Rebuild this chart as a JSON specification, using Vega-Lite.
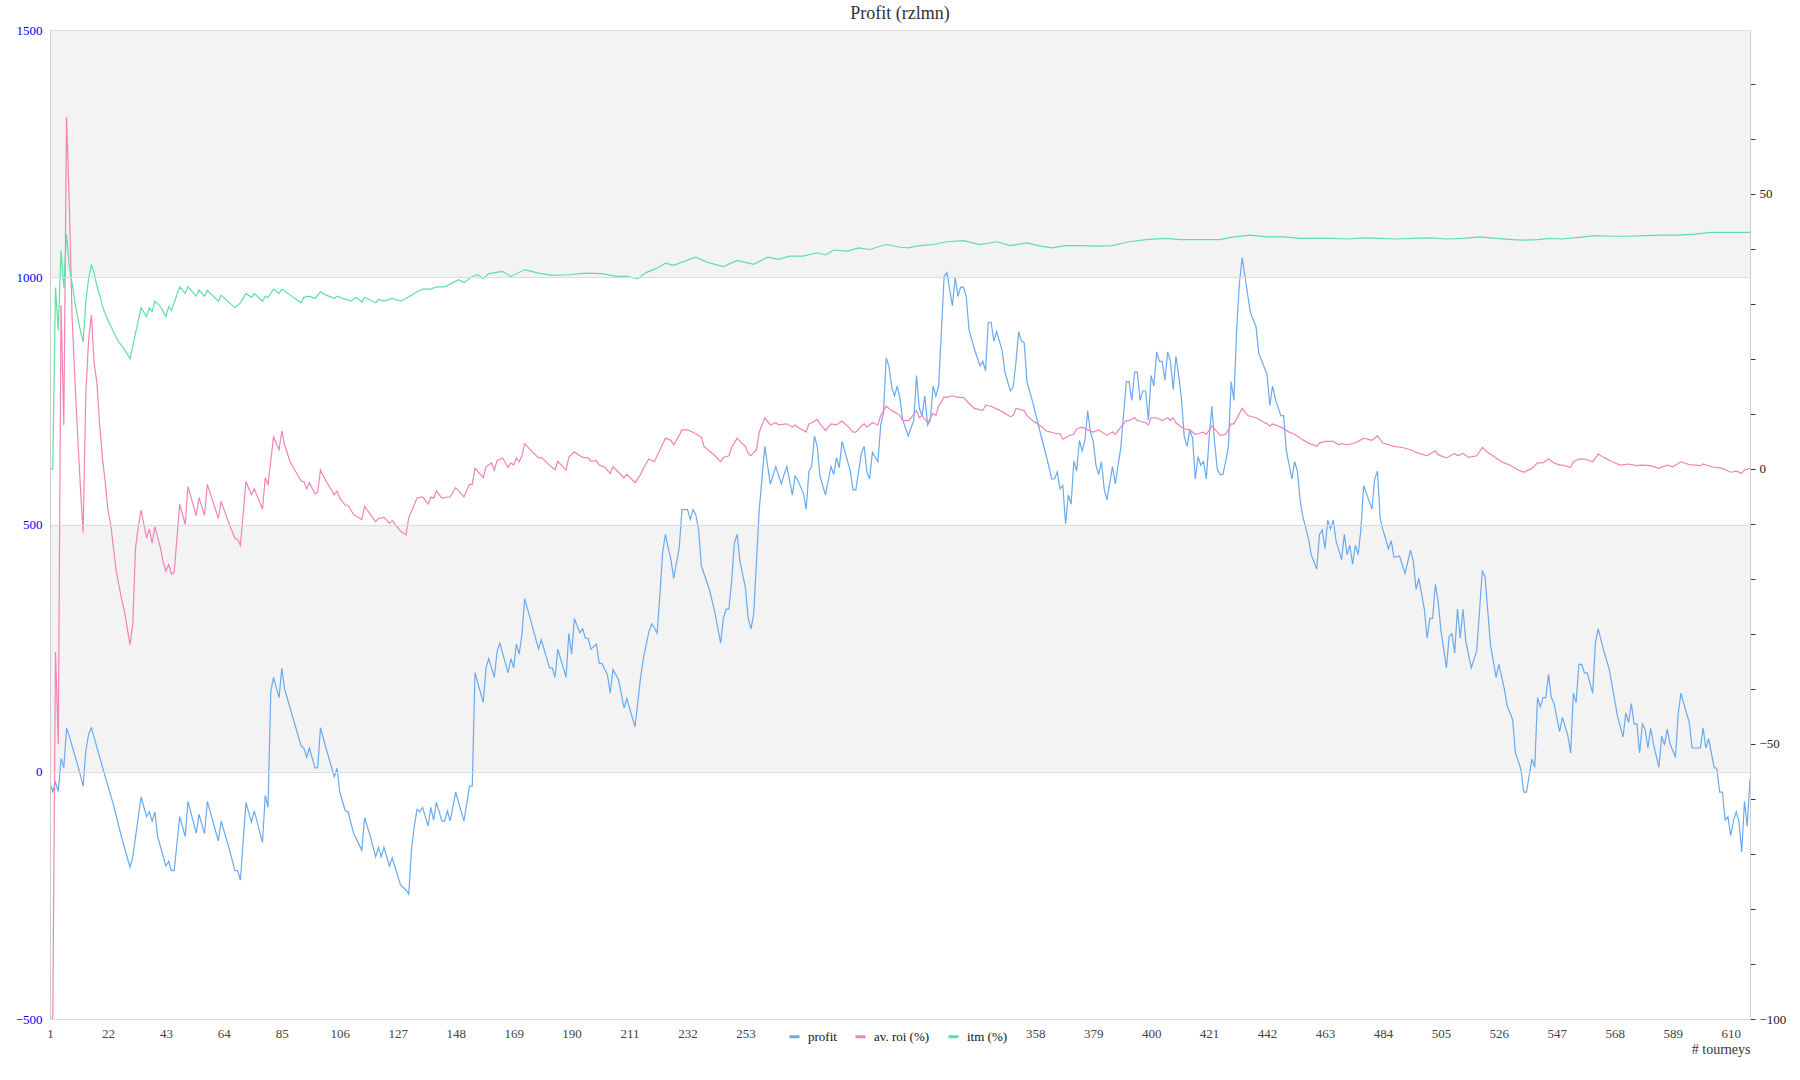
{
  "$schema": "https://vega.github.io/schema/vega-lite/v6.json",
  "autosize": {"type": "none"},
  "width": 1700,
  "height": 989,
  "padding": {"left": 50, "top": 30, "right": 50, "bottom": 61},
  "background": "white",
  "config": {
    "view": {"stroke": "#cccccc"},
    "font": "Liberation Serif"
  },
  "title": {
    "text": "Profit (rzlmn)",
    "font": "Liberation Serif",
    "fontSize": 18,
    "fontWeight": "normal",
    "color": "#333333",
    "offset": 1
  },
  "datasets": {
    "bands": [{"lo": 1000, "hi": 1500}, {"lo": 0, "hi": 500}],
    "profit": [
      {"t":1,"v":-24},{"t":2,"v":-40},{"t":3,"v":-22},{"t":4,"v":-40},{"t":5,"v":27},{"t":6,"v":8},{"t":7,"v":88},{"t":8,"v":72},{"t":9,"v":52},{"t":10,"v":33},
      {"t":11,"v":14},{"t":12,"v":-7},{"t":13,"v":-29},{"t":14,"v":43},{"t":15,"v":76},{"t":16,"v":89},{"t":21,"v":-10},{"t":24,"v":-67},{"t":27,"v":-134},{"t":30,"v":-193},
      {"t":31,"v":-172},{"t":33,"v":-91},{"t":34,"v":-51},{"t":36,"v":-91},{"t":37,"v":-81},{"t":38,"v":-100},{"t":39,"v":-81},{"t":40,"v":-131},{"t":43,"v":-191},{"t":44,"v":-181},
      {"t":45,"v":-200},{"t":46,"v":-200},{"t":48,"v":-91},{"t":50,"v":-131},{"t":51,"v":-60},{"t":54,"v":-124},{"t":55,"v":-86},{"t":57,"v":-125},{"t":58,"v":-60},{"t":62,"v":-140},
      {"t":63,"v":-100},{"t":66,"v":-157},{"t":68,"v":-200},{"t":69,"v":-200},{"t":70,"v":-219},{"t":72,"v":-62},{"t":74,"v":-102},{"t":75,"v":-79},{"t":78,"v":-143},{"t":79,"v":-48},
      {"t":80,"v":-72},{"t":81,"v":162},{"t":82,"v":191},{"t":84,"v":150},{"t":85,"v":209},{"t":86,"v":167},{"t":88,"v":129},{"t":92,"v":52},{"t":93,"v":48},{"t":94,"v":29},
      {"t":95,"v":48},{"t":97,"v":8},{"t":98,"v":8},{"t":99,"v":89},{"t":101,"v":48},{"t":104,"v":-10},{"t":105,"v":7},{"t":106,"v":-41},{"t":108,"v":-79},{"t":109,"v":-81},
      {"t":111,"v":-124},{"t":114,"v":-159},{"t":115,"v":-93},{"t":117,"v":-129},{"t":119,"v":-172},{"t":120,"v":-153},{"t":121,"v":-172},{"t":122,"v":-153},{"t":124,"v":-191},{"t":125,"v":-174},
      {"t":128,"v":-229},{"t":130,"v":-239},{"t":131,"v":-248},{"t":132,"v":-157},{"t":133,"v":-110},{"t":134,"v":-76},{"t":135,"v":-81},{"t":136,"v":-72},{"t":138,"v":-110},{"t":139,"v":-72},
      {"t":140,"v":-98},{"t":141,"v":-62},{"t":143,"v":-100},{"t":144,"v":-100},{"t":145,"v":-79},{"t":146,"v":-100},{"t":148,"v":-41},{"t":151,"v":-100},{"t":153,"v":-29},{"t":154,"v":-29},
      {"t":155,"v":200},{"t":158,"v":140},{"t":159,"v":210},{"t":160,"v":229},{"t":162,"v":191},{"t":163,"v":243},{"t":164,"v":260},{"t":167,"v":200},{"t":168,"v":229},{"t":169,"v":210},
      {"t":170,"v":258},{"t":171,"v":238},{"t":172,"v":277},{"t":173,"v":350},{"t":175,"v":310},{"t":178,"v":248},{"t":179,"v":267},{"t":182,"v":210},{"t":183,"v":210},{"t":184,"v":191},
      {"t":185,"v":248},{"t":188,"v":191},{"t":189,"v":280},{"t":190,"v":238},{"t":191,"v":310},{"t":193,"v":281},{"t":194,"v":289},{"t":195,"v":270},{"t":196,"v":270},{"t":197,"v":248},
      {"t":199,"v":258},{"t":200,"v":219},{"t":201,"v":219},{"t":203,"v":196},{"t":204,"v":159},{"t":205,"v":207},{"t":207,"v":186},{"t":209,"v":129},{"t":210,"v":148},{"t":213,"v":91},
      {"t":215,"v":191},{"t":216,"v":229},{"t":218,"v":283},{"t":219,"v":299},{"t":220,"v":291},{"t":221,"v":280},{"t":222,"v":358},{"t":223,"v":444},{"t":224,"v":480},{"t":225,"v":453},
      {"t":226,"v":429},{"t":227,"v":391},{"t":229,"v":453},{"t":230,"v":530},{"t":232,"v":530},{"t":233,"v":510},{"t":234,"v":530},{"t":235,"v":520},{"t":236,"v":491},{"t":237,"v":417},
      {"t":240,"v":367},{"t":242,"v":320},{"t":244,"v":260},{"t":245,"v":310},{"t":246,"v":329},{"t":247,"v":329},{"t":248,"v":386},{"t":249,"v":463},{"t":250,"v":480},{"t":251,"v":426},
      {"t":253,"v":372},{"t":254,"v":310},{"t":255,"v":289},{"t":256,"v":320},{"t":257,"v":426},{"t":258,"v":530},{"t":260,"v":658},{"t":262,"v":582},{"t":264,"v":617},{"t":266,"v":582},
      {"t":267,"v":601},{"t":268,"v":617},{"t":270,"v":560},{"t":271,"v":598},{"t":272,"v":589},{"t":274,"v":563},{"t":275,"v":531},{"t":276,"v":608},{"t":277,"v":617},{"t":278,"v":679},
      {"t":279,"v":658},{"t":280,"v":598},{"t":282,"v":560},{"t":283,"v":589},{"t":284,"v":617},{"t":285,"v":601},{"t":286,"v":635},{"t":287,"v":615},{"t":288,"v":668},{"t":291,"v":608},
      {"t":292,"v":570},{"t":293,"v":570},{"t":295,"v":644},{"t":296,"v":658},{"t":297,"v":606},{"t":298,"v":592},{"t":299,"v":646},{"t":301,"v":627},{"t":302,"v":701},{"t":303,"v":725},
      {"t":304,"v":837},{"t":305,"v":820},{"t":306,"v":778},{"t":307,"v":760},{"t":308,"v":780},{"t":309,"v":754},{"t":310,"v":711},{"t":312,"v":679},{"t":314,"v":711},{"t":315,"v":801},
      {"t":316,"v":735},{"t":317,"v":720},{"t":318,"v":760},{"t":319,"v":701},{"t":320,"v":711},{"t":321,"v":780},{"t":322,"v":760},{"t":323,"v":780},{"t":324,"v":892},{"t":325,"v":1002},
      {"t":326,"v":1009},{"t":328,"v":942},{"t":329,"v":1000},{"t":330,"v":961},{"t":331,"v":980},{"t":332,"v":980},{"t":333,"v":961},{"t":334,"v":894},{"t":336,"v":854},{"t":338,"v":821},
      {"t":339,"v":830},{"t":340,"v":811},{"t":341,"v":909},{"t":342,"v":909},{"t":343,"v":871},{"t":344,"v":890},{"t":346,"v":852},{"t":347,"v":808},{"t":349,"v":770},{"t":350,"v":778},
      {"t":351,"v":827},{"t":352,"v":890},{"t":353,"v":871},{"t":354,"v":868},{"t":355,"v":789},{"t":357,"v":749},{"t":360,"v":682},{"t":362,"v":639},{"t":364,"v":592},{"t":365,"v":592},
      {"t":366,"v":606},{"t":367,"v":572},{"t":368,"v":579},{"t":369,"v":501},{"t":370,"v":560},{"t":371,"v":541},{"t":372,"v":628},{"t":373,"v":608},{"t":374,"v":670},{"t":375,"v":649},
      {"t":376,"v":670},{"t":377,"v":730},{"t":378,"v":687},{"t":379,"v":668},{"t":380,"v":620},{"t":381,"v":601},{"t":382,"v":627},{"t":383,"v":572},{"t":384,"v":550},{"t":386,"v":617},
      {"t":387,"v":582},{"t":389,"v":655},{"t":391,"v":789},{"t":392,"v":789},{"t":393,"v":751},{"t":394,"v":808},{"t":395,"v":808},{"t":396,"v":751},{"t":397,"v":770},{"t":398,"v":770},
      {"t":399,"v":711},{"t":400,"v":801},{"t":401,"v":780},{"t":402,"v":849},{"t":403,"v":830},{"t":404,"v":830},{"t":405,"v":792},{"t":406,"v":849},{"t":407,"v":830},{"t":408,"v":773},
      {"t":409,"v":840},{"t":410,"v":801},{"t":411,"v":754},{"t":412,"v":677},{"t":413,"v":658},{"t":414,"v":690},{"t":415,"v":675},{"t":416,"v":592},{"t":417,"v":637},{"t":418,"v":620},
      {"t":419,"v":627},{"t":420,"v":592},{"t":421,"v":673},{"t":422,"v":739},{"t":423,"v":665},{"t":424,"v":611},{"t":425,"v":601},{"t":426,"v":601},{"t":427,"v":627},{"t":428,"v":658},
      {"t":429,"v":789},{"t":430,"v":751},{"t":431,"v":897},{"t":432,"v":989},{"t":433,"v":1040},{"t":434,"v":1002},{"t":435,"v":964},{"t":436,"v":928},{"t":438,"v":900},{"t":439,"v":846},
      {"t":442,"v":804},{"t":443,"v":741},{"t":444,"v":780},{"t":445,"v":754},{"t":447,"v":720},{"t":448,"v":720},{"t":449,"v":649},{"t":451,"v":592},{"t":452,"v":627},{"t":453,"v":608},
      {"t":454,"v":549},{"t":455,"v":515},{"t":457,"v":472},{"t":458,"v":439},{"t":460,"v":410},{"t":461,"v":480},{"t":462,"v":489},{"t":463,"v":451},{"t":464,"v":509},{"t":465,"v":491},
      {"t":466,"v":509},{"t":467,"v":467},{"t":469,"v":429},{"t":470,"v":480},{"t":471,"v":439},{"t":472,"v":458},{"t":473,"v":420},{"t":474,"v":458},{"t":475,"v":439},{"t":476,"v":489},
      {"t":477,"v":579},{"t":480,"v":531},{"t":481,"v":592},{"t":482,"v":608},{"t":483,"v":512},{"t":484,"v":489},{"t":486,"v":451},{"t":487,"v":467},{"t":488,"v":434},{"t":490,"v":436},
      {"t":492,"v":401},{"t":494,"v":448},{"t":495,"v":425},{"t":496,"v":369},{"t":497,"v":391},{"t":499,"v":329},{"t":500,"v":270},{"t":501,"v":310},{"t":502,"v":310},{"t":503,"v":379},
      {"t":504,"v":345},{"t":505,"v":286},{"t":507,"v":210},{"t":508,"v":274},{"t":509,"v":279},{"t":510,"v":240},{"t":511,"v":329},{"t":512,"v":270},{"t":513,"v":329},{"t":514,"v":264},
      {"t":516,"v":210},{"t":518,"v":245},{"t":520,"v":407},{"t":521,"v":394},{"t":522,"v":324},{"t":523,"v":255},{"t":525,"v":191},{"t":526,"v":217},{"t":528,"v":167},{"t":529,"v":134},
      {"t":531,"v":105},{"t":532,"v":38},{"t":534,"v":5},{"t":535,"v":-41},{"t":536,"v":-41},{"t":538,"v":26},{"t":539,"v":9},{"t":540,"v":150},{"t":541,"v":131},{"t":542,"v":150},
      {"t":543,"v":150},{"t":544,"v":197},{"t":545,"v":150},{"t":546,"v":138},{"t":548,"v":81},{"t":549,"v":110},{"t":551,"v":73},{"t":552,"v":38},{"t":553,"v":159},{"t":554,"v":140},
      {"t":555,"v":217},{"t":556,"v":217},{"t":557,"v":200},{"t":558,"v":200},{"t":560,"v":159},{"t":561,"v":262},{"t":562,"v":289},{"t":564,"v":245},{"t":566,"v":207},{"t":569,"v":112},
      {"t":571,"v":70},{"t":572,"v":119},{"t":573,"v":100},{"t":574,"v":138},{"t":575,"v":97},{"t":576,"v":97},{"t":577,"v":38},{"t":578,"v":97},{"t":579,"v":86},{"t":580,"v":48},
      {"t":581,"v":88},{"t":582,"v":57},{"t":584,"v":9},{"t":585,"v":72},{"t":586,"v":54},{"t":587,"v":86},{"t":588,"v":57},{"t":590,"v":29},{"t":591,"v":119},{"t":592,"v":159},
      {"t":593,"v":138},{"t":595,"v":100},{"t":596,"v":48},{"t":599,"v":48},{"t":600,"v":89},{"t":601,"v":48},{"t":602,"v":67},{"t":604,"v":9},{"t":605,"v":6},{"t":606,"v":-41},
      {"t":607,"v":-41},{"t":608,"v":-98},{"t":609,"v":-91},{"t":610,"v":-129},{"t":611,"v":-100},{"t":612,"v":-81},{"t":613,"v":-100},{"t":614,"v":-162},{"t":615,"v":-60},{"t":616,"v":-110},
      {"t":617,"v":-14}
    ],
    "roi": [
      {"t":1,"v":-100},{"t":2,"v":-100},{"t":3,"v":-33.3},{"t":4,"v":-50},{"t":5,"v":29.8},{"t":6,"v":8},{"t":7,"v":64},{"t":8,"v":48},{"t":9,"v":27.7},{"t":10,"v":16.6},
      {"t":11,"v":6.3},{"t":12,"v":-3.2},{"t":13,"v":-11.6},{"t":14,"v":14},{"t":15,"v":23.5},{"t":16,"v":28},{"t":17,"v":19.2},{"t":18,"v":15.7},{"t":19,"v":8},{"t":20,"v":2},
      {"t":21,"v":-2.3},{"t":22,"v":-7.5},{"t":23,"v":-10.1},{"t":24,"v":-14.3},{"t":25,"v":-18.6},{"t":26,"v":-21.2},{"t":27,"v":-23.8},{"t":28,"v":-26},{"t":29,"v":-29},{"t":30,"v":-32},
      {"t":31,"v":-28.1},{"t":32,"v":-14.3},{"t":33,"v":-10.5},{"t":34,"v":-7.5},{"t":36,"v":-12.6},{"t":37,"v":-10.9},{"t":38,"v":-13.5},{"t":39,"v":-10.5},{"t":41,"v":-14.3},{"t":42,"v":-16.9},
      {"t":43,"v":-18.6},{"t":44,"v":-17.4},{"t":45,"v":-19.1},{"t":46,"v":-18.8},{"t":48,"v":-6.4},{"t":50,"v":-10.1},{"t":51,"v":-3.2},{"t":54,"v":-8.5},{"t":55,"v":-5.2},{"t":57,"v":-8.5},
      {"t":58,"v":-2.8},{"t":62,"v":-9},{"t":63,"v":-5.9},{"t":66,"v":-10.1},{"t":68,"v":-12.6},{"t":69,"v":-12.8},{"t":70,"v":-13.9},{"t":72,"v":-2.3},{"t":74,"v":-4.7},{"t":75,"v":-3.6},
      {"t":78,"v":-7.3},{"t":79,"v":-1.6},{"t":80,"v":-2.8},{"t":82,"v":5.8},{"t":84,"v":3.5},{"t":85,"v":6.9},{"t":86,"v":4.4},{"t":88,"v":1.3},{"t":92,"v":-2.2},{"t":93,"v":-2.3},
      {"t":94,"v":-3.6},{"t":95,"v":-2.5},{"t":97,"v":-4.5},{"t":98,"v":-4.3},{"t":99,"v":-0.2},{"t":101,"v":-2.2},{"t":104,"v":-4.7},{"t":105,"v":-4},{"t":106,"v":-5.3},{"t":108,"v":-6.6},
      {"t":109,"v":-6.6},{"t":111,"v":-8.3},{"t":114,"v":-9.2},{"t":115,"v":-6.8},{"t":117,"v":-8.2},{"t":119,"v":-9.6},{"t":120,"v":-9},{"t":122,"v":-8.8},{"t":124,"v":-9.9},{"t":125,"v":-9.4},
      {"t":128,"v":-11.3},{"t":130,"v":-12},{"t":131,"v":-8.8},{"t":132,"v":-7.7},{"t":134,"v":-5.3},{"t":136,"v":-5.1},{"t":138,"v":-6.4},{"t":139,"v":-5.1},{"t":140,"v":-5.3},{"t":141,"v":-4},
      {"t":143,"v":-5.3},{"t":145,"v":-5.1},{"t":146,"v":-5.1},{"t":148,"v":-3.4},{"t":151,"v":-5.1},{"t":153,"v":-2.8},{"t":154,"v":-2.8},{"t":155,"v":0.1},{"t":158,"v":-1.6},{"t":159,"v":0.4},
      {"t":161,"v":1.1},{"t":162,"v":-0.2},{"t":163,"v":1.5},{"t":165,"v":2},{"t":167,"v":0.3},{"t":168,"v":1.1},{"t":169,"v":0.7},{"t":170,"v":2},{"t":171,"v":1.3},{"t":172,"v":2.4},
      {"t":173,"v":4.6},{"t":175,"v":3.5},{"t":178,"v":2},{"t":179,"v":2.1},{"t":182,"v":0.7},{"t":184,"v":-0.2},{"t":185,"v":1.4},{"t":188,"v":-0.2},{"t":189,"v":2.1},{"t":191,"v":3.1},
      {"t":194,"v":2.1},{"t":196,"v":2},{"t":197,"v":1.4},{"t":199,"v":1.5},{"t":200,"v":0.7},{"t":202,"v":0.3},{"t":204,"v":-0.8},{"t":205,"v":0.4},{"t":209,"v":-1.6},{"t":210,"v":-1},
      {"t":213,"v":-2.5},{"t":215,"v":-1},{"t":216,"v":0.1},{"t":218,"v":1.8},{"t":220,"v":1.3},{"t":224,"v":5.6},{"t":226,"v":5.2},{"t":227,"v":4.4},{"t":229,"v":6.1},{"t":230,"v":7.1},
      {"t":232,"v":7.1},{"t":233,"v":6.9},{"t":235,"v":6.4},{"t":237,"v":5.8},{"t":238,"v":4.1},{"t":242,"v":2.4},{"t":244,"v":1.3},{"t":245,"v":2.1},{"t":247,"v":2.4},{"t":248,"v":3.9},
      {"t":250,"v":5.6},{"t":251,"v":5},{"t":253,"v":4.1},{"t":254,"v":2.8},{"t":255,"v":2.4},{"t":257,"v":3.5},{"t":258,"v":6.7},{"t":260,"v":9.3},{"t":262,"v":8},{"t":264,"v":8.4},
      {"t":265,"v":8},{"t":268,"v":8.2},{"t":270,"v":7.6},{"t":271,"v":8},{"t":272,"v":7.6},{"t":275,"v":6.7},{"t":276,"v":8.2},{"t":277,"v":8.4},{"t":279,"v":9},{"t":280,"v":8.2},
      {"t":282,"v":7},{"t":283,"v":7.6},{"t":284,"v":8.2},{"t":286,"v":8},{"t":288,"v":8.7},{"t":291,"v":7.3},{"t":292,"v":6.7},{"t":293,"v":6.7},{"t":295,"v":7.8},{"t":296,"v":8.2},
      {"t":297,"v":7.6},{"t":299,"v":8.4},{"t":301,"v":8},{"t":302,"v":9.7},{"t":304,"v":11.4},{"t":306,"v":10.6},{"t":308,"v":10.1},{"t":309,"v":9.7},{"t":310,"v":8.8},{"t":312,"v":8.8},
      {"t":313,"v":9.3},{"t":315,"v":10.6},{"t":316,"v":9.3},{"t":317,"v":9.7},{"t":319,"v":8.4},{"t":321,"v":10.1},{"t":322,"v":9.7},{"t":323,"v":11.4},{"t":325,"v":13.1},{"t":326,"v":13},
      {"t":328,"v":13.3},{"t":330,"v":13},{"t":332,"v":13},{"t":334,"v":11.9},{"t":336,"v":11},{"t":339,"v":10.6},{"t":340,"v":11.6},{"t":342,"v":11.4},{"t":345,"v":10.7},{"t":347,"v":10.1},
      {"t":349,"v":9.5},{"t":350,"v":9.7},{"t":351,"v":11},{"t":354,"v":10.6},{"t":355,"v":9.7},{"t":357,"v":8.8},{"t":360,"v":7.8},{"t":362,"v":6.9},{"t":366,"v":6.4},{"t":367,"v":6.4},
      {"t":368,"v":5.4},{"t":370,"v":6},{"t":372,"v":6.3},{"t":373,"v":7.3},{"t":375,"v":7.6},{"t":377,"v":7.1},{"t":379,"v":6.7},{"t":381,"v":7.1},{"t":384,"v":6.1},{"t":386,"v":6.7},
      {"t":387,"v":6.3},{"t":389,"v":7.6},{"t":391,"v":8.8},{"t":392,"v":8.8},{"t":394,"v":9.3},{"t":395,"v":8.8},{"t":398,"v":8.4},{"t":399,"v":8},{"t":400,"v":9.3},{"t":402,"v":9.3},
      {"t":404,"v":8.8},{"t":406,"v":9.3},{"t":407,"v":8.8},{"t":408,"v":9.3},{"t":409,"v":8.4},{"t":411,"v":7.6},{"t":412,"v":7.3},{"t":414,"v":7.1},{"t":416,"v":6.3},{"t":417,"v":6.4},
      {"t":419,"v":6.7},{"t":420,"v":6.3},{"t":422,"v":7.8},{"t":423,"v":7.3},{"t":425,"v":6.1},{"t":427,"v":6.3},{"t":428,"v":7.1},{"t":429,"v":8.2},{"t":430,"v":8.2},{"t":433,"v":11},
      {"t":435,"v":9.7},{"t":438,"v":9.3},{"t":440,"v":8.7},{"t":442,"v":8.2},{"t":443,"v":7.8},{"t":444,"v":8.2},{"t":447,"v":7.6},{"t":450,"v":6.7},{"t":452,"v":6.3},{"t":454,"v":5.6},
      {"t":457,"v":4.7},{"t":460,"v":4.1},{"t":461,"v":4.7},{"t":463,"v":5},{"t":464,"v":5},{"t":466,"v":5},{"t":468,"v":4.4},{"t":469,"v":4.6},{"t":471,"v":4.4},{"t":473,"v":4.6},
      {"t":475,"v":5},{"t":477,"v":5.6},{"t":480,"v":5.2},{"t":482,"v":6},{"t":484,"v":4.7},{"t":486,"v":4.4},{"t":488,"v":4.1},{"t":491,"v":3.9},{"t":494,"v":3.5},{"t":496,"v":3},
      {"t":500,"v":2.4},{"t":503,"v":3.3},{"t":504,"v":2.6},{"t":507,"v":2},{"t":510,"v":2.8},{"t":511,"v":2.4},{"t":513,"v":2.8},{"t":515,"v":2.1},{"t":518,"v":2.4},{"t":520,"v":3.9},
      {"t":522,"v":3},{"t":525,"v":2},{"t":527,"v":1.3},{"t":530,"v":0.7},{"t":533,"v":-0.2},{"t":535,"v":-0.6},{"t":538,"v":0.1},{"t":540,"v":1.1},{"t":542,"v":1.1},{"t":544,"v":1.8},
      {"t":546,"v":1.1},{"t":548,"v":0.7},{"t":549,"v":0.7},{"t":552,"v":0.3},{"t":553,"v":1.3},{"t":555,"v":1.8},{"t":557,"v":1.8},{"t":560,"v":1.3},{"t":562,"v":2.7},{"t":564,"v":2.1},
      {"t":567,"v":1.3},{"t":570,"v":0.7},{"t":573,"v":0.9},{"t":576,"v":0.6},{"t":578,"v":0.7},{"t":581,"v":0.6},{"t":584,"v":0.1},{"t":587,"v":0.7},{"t":589,"v":0.4},{"t":592,"v":1.3},
      {"t":595,"v":0.8},{"t":599,"v":0.6},{"t":600,"v":0.9},{"t":603,"v":0.4},{"t":607,"v":0.1},{"t":610,"v":-0.6},{"t":612,"v":-0.4},{"t":614,"v":-0.8},{"t":615,"v":-0.2},{"t":617,"v":0.1}
    ],
    "itm": [
      {"t":1,"v":0},{"t":2,"v":0},{"t":3,"v":33},{"t":4,"v":25.2},{"t":5,"v":39.7},{"t":6,"v":33},{"t":7,"v":42.6},{"t":8,"v":36.8},{"t":9,"v":33.8},{"t":10,"v":30.3},
      {"t":11,"v":27.7},{"t":12,"v":25.2},{"t":13,"v":23},{"t":14,"v":30.5},{"t":15,"v":34.6},{"t":16,"v":37.2},{"t":17,"v":35.5},{"t":18,"v":33.3},{"t":19,"v":31.6},{"t":20,"v":29.6},
      {"t":21,"v":28.2},{"t":22,"v":27.1},{"t":23,"v":26},{"t":24,"v":25},{"t":25,"v":23.9},{"t":26,"v":23},{"t":27,"v":22.4},{"t":28,"v":21.7},{"t":29,"v":20.9},{"t":30,"v":20},
      {"t":32,"v":24.7},{"t":34,"v":29.3},{"t":36,"v":27.7},{"t":37,"v":29.3},{"t":38,"v":28.6},{"t":39,"v":30.5},{"t":41,"v":29.5},{"t":43,"v":27.7},{"t":44,"v":29.5},{"t":45,"v":28.8},
      {"t":48,"v":33.1},{"t":50,"v":31.9},{"t":51,"v":33.1},{"t":54,"v":31.4},{"t":55,"v":32.5},{"t":57,"v":31.4},{"t":58,"v":32.5},{"t":62,"v":30.5},{"t":63,"v":31.6},{"t":68,"v":29.3},
      {"t":70,"v":30.2},{"t":72,"v":31.9},{"t":74,"v":31.2},{"t":75,"v":31.9},{"t":78,"v":30.5},{"t":79,"v":31.4},{"t":80,"v":31.2},{"t":82,"v":32.7},{"t":84,"v":31.9},{"t":85,"v":32.7},
      {"t":88,"v":31.6},{"t":92,"v":30.2},{"t":93,"v":31.2},{"t":95,"v":31.4},{"t":97,"v":31},{"t":99,"v":32.2},{"t":101,"v":31.6},{"t":104,"v":31},{"t":105,"v":31.4},{"t":107,"v":31},
      {"t":110,"v":30.5},{"t":112,"v":31.2},{"t":114,"v":30.3},{"t":115,"v":31.2},{"t":119,"v":30.2},{"t":120,"v":30.8},{"t":122,"v":30.5},{"t":125,"v":31},{"t":128,"v":30.5},{"t":130,"v":31},
      {"t":134,"v":32.2},{"t":136,"v":32.7},{"t":139,"v":32.7},{"t":141,"v":33.1},{"t":144,"v":33.1},{"t":146,"v":33.6},{"t":149,"v":34.4},{"t":151,"v":33.9},{"t":154,"v":35},{"t":156,"v":35.3},
      {"t":158,"v":34.6},{"t":160,"v":35.5},{"t":165,"v":35.9},{"t":168,"v":35},{"t":173,"v":36.2},{"t":179,"v":35.5},{"t":183,"v":35.2},{"t":189,"v":35.3},{"t":195,"v":35.6},{"t":201,"v":35.5},
      {"t":206,"v":35},{"t":210,"v":35},{"t":214,"v":34.6},{"t":217,"v":35.7},{"t":221,"v":36.5},{"t":224,"v":37.4},{"t":227,"v":37},{"t":230,"v":37.6},{"t":235,"v":38.5},{"t":239,"v":37.6},
      {"t":245,"v":36.8},{"t":250,"v":37.9},{"t":256,"v":37.2},{"t":261,"v":38.5},{"t":265,"v":38.1},{"t":269,"v":38.7},{"t":274,"v":38.7},{"t":279,"v":39.3},{"t":282,"v":38.9},{"t":285,"v":39.8},
      {"t":290,"v":39.6},{"t":294,"v":40.2},{"t":298,"v":39.9},{"t":304,"v":40.8},{"t":309,"v":40.3},{"t":312,"v":40.2},{"t":316,"v":40.6},{"t":321,"v":40.8},{"t":326,"v":41.3},{"t":332,"v":41.5},
      {"t":338,"v":40.8},{"t":344,"v":41.3},{"t":349,"v":40.6},{"t":355,"v":41.1},{"t":360,"v":40.5},{"t":364,"v":40.2},{"t":369,"v":40.6},{"t":375,"v":40.6},{"t":381,"v":40.5},{"t":386,"v":40.6},
      {"t":392,"v":41.3},{"t":398,"v":41.7},{"t":405,"v":41.9},{"t":411,"v":41.7},{"t":418,"v":41.7},{"t":425,"v":41.7},{"t":430,"v":42.2},{"t":436,"v":42.5},{"t":442,"v":42.2},{"t":448,"v":42.2},
      {"t":454,"v":41.9},{"t":460,"v":41.9},{"t":466,"v":41.9},{"t":471,"v":41.8},{"t":477,"v":42},{"t":483,"v":41.9},{"t":489,"v":41.8},{"t":495,"v":41.9},{"t":501,"v":42},{"t":507,"v":41.8},
      {"t":513,"v":41.9},{"t":519,"v":42.2},{"t":525,"v":41.9},{"t":531,"v":41.7},{"t":535,"v":41.6},{"t":540,"v":41.7},{"t":544,"v":41.9},{"t":549,"v":41.8},{"t":555,"v":42.1},{"t":561,"v":42.4},
      {"t":567,"v":42.3},{"t":573,"v":42.3},{"t":579,"v":42.4},{"t":585,"v":42.5},{"t":591,"v":42.5},{"t":597,"v":42.7},{"t":603,"v":43},{"t":610,"v":43},{"t":617,"v":43}
    ]
  },
  "layer": [
    {
      "layer": [
        {
          "data": {"name": "bands"},
          "mark": {"type": "rect", "color": "#f3f3f3"},
          "encoding": {
            "y": {
              "field": "lo",
              "type": "quantitative",
              "title": null,
              "scale": {"domain": [-500, 1500], "nice": false, "zero": false},
              "axis": {
                "values": [-500, 0, 500, 1000, 1500],
                "format": "d",
                "grid": true,
                "gridColor": "#dddddd",
                "ticks": false,
                "domainColor": "#cccccc",
                "labelColor": "#0000ff",
                "labelFont": "Liberation Serif",
                "labelFontSize": 13,
                "labelPadding": 8,
                "zindex": 1
              }
            },
            "y2": {"field": "hi"}
          }
        },
        {
          "data": {"name": "profit"},
          "mark": {"type": "line", "strokeWidth": 1.2, "clip": true},
          "encoding": {
            "x": {
              "field": "t",
              "type": "quantitative",
              "scale": {"domain": [1, 617], "nice": false, "zero": false},
              "axis": {
                "values": [1, 22, 43, 64, 85, 106, 127, 148, 169, 190, 211, 232, 253, 358, 379, 400, 421, 442, 463, 484, 505, 526, 547, 568, 589, 610],
                "grid": false,
                "ticks": false,
                "domain": false,
                "labelFlush": false,
                "labelColor": "#444444",
                "labelFont": "Liberation Serif",
                "labelFontSize": 13,
                "labelPadding": 8,
                "title": "# tourneys",
                "titleAnchor": "end",
                "titleFont": "Liberation Serif",
                "titleFontSize": 14,
                "titleFontWeight": "normal",
                "titleColor": "#333333",
                "titlePadding": 2
              }
            },
            "y": {"field": "v", "type": "quantitative", "title": null},
            "color": {
              "datum": "profit",
              "type": "nominal",
              "scale": {
                "domain": ["profit", "av. roi (%)", "itm (%)"],
                "range": ["#6aaaee", "#f283b6", "#5fe0a2"]
              },
              "legend": {
                "orient": "none",
                "legendX": 738,
                "legendY": 1000,
                "direction": "horizontal",
                "title": null,
                "symbolType": "stroke",
                "symbolStrokeWidth": 3,
                "symbolSize": 100,
                "labelFont": "Liberation Serif",
                "labelFontSize": 13,
                "labelColor": "#111111",
                "labelOffset": 7,
                "columnPadding": 12
              }
            }
          }
        }
      ]
    },
    {
      "layer": [
        {
          "data": {"name": "roi"},
          "mark": {"type": "line", "strokeWidth": 1.2, "clip": true},
          "encoding": {
            "x": {"field": "t", "type": "quantitative"},
            "y": {
              "field": "v",
              "type": "quantitative",
              "title": null,
              "scale": {"domain": [-100, 79.8], "nice": false, "zero": false},
              "axis": {
                "orient": "right",
                "values": [-100, -90, -80, -70, -60, -50, -40, -30, -20, -10, 0, 10, 20, 30, 40, 50, 60, 70],
                "labelExpr": "datum.value % 50 === 0 ? datum.label : ''",
                "grid": false,
                "tickColor": "#333333",
                "tickSize": 5,
                "domainColor": "#cccccc",
                "labelColor": "#222222",
                "labelFont": "Liberation Serif",
                "labelFontSize": 13,
                "labelPadding": 4
              }
            },
            "color": {"datum": "av. roi (%)", "type": "nominal"}
          }
        },
        {
          "data": {"name": "itm"},
          "mark": {"type": "line", "strokeWidth": 1.2, "clip": true},
          "encoding": {
            "x": {"field": "t", "type": "quantitative"},
            "y": {"field": "v", "type": "quantitative", "title": null},
            "color": {"datum": "itm (%)", "type": "nominal"}
          }
        }
      ]
    }
  ],
  "resolve": {"scale": {"y": "independent"}}
}
